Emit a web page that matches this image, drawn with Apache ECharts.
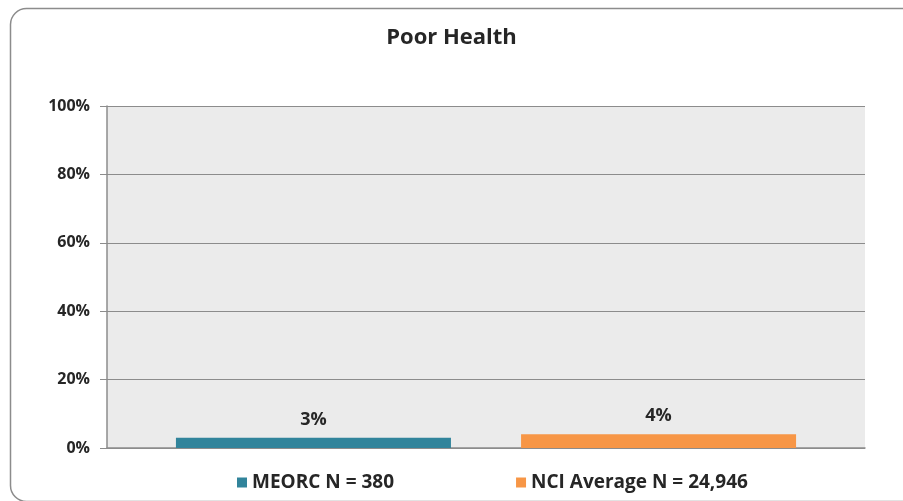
<!DOCTYPE html>
<html>
<head>
<meta charset="utf-8">
<script src="https://cdn.jsdelivr.net/npm/echarts@6/dist/echarts.min.js"></script>
<style>
  html, body { margin: 0; padding: 0; background: #ffffff; }
  #chart { width: 903px; height: 501px; }
</style>
</head>
<body>
<div id="chart"></div>
<script>
// Share of respondents reporting poor health
const categories = ['Poor Health'];
const seriesNames = ['MEORC N = 380', 'NCI Average N = 24,946'];
const meorcValues = [3];
const nciValues = [4];
const yTicks = [0, 20, 40, 60, 80, 100];

const FONT = 'Open Sans';
const TEXT = '#262626';

const chart = echarts.init(document.getElementById('chart'), null, { renderer: 'canvas' });

chart.setOption({
  backgroundColor: '#ffffff',
  animation: false,
  title: {
    text: categories[0],
    left: 'center',
    top: 22,
    textStyle: { fontFamily: FONT, fontSize: 22, fontWeight: 'bold', color: TEXT }
  },
  graphic: [{
    type: 'rect',
    left: 8, top: 6,
    shape: { width: 910, height: 493, r: 16 },
    style: { fill: 'none', stroke: '#8c8c8c', lineWidth: 1.5 },
    silent: true,
    z: -1
  }],
  legend: {
    data: seriesNames,
    left: 232,
    top: 468,
    itemWidth: 10,
    itemHeight: 10,
    itemGap: 122,
    icon: 'rect',
    textStyle: { fontFamily: FONT, fontSize: 19, fontWeight: 'bold', color: TEXT }
  },
  grid: {
    left: 107, right: 38, top: 106, bottom: 53,
    show: true,
    backgroundColor: '#ebebeb',
    borderWidth: 0
  },
  xAxis: {
    type: 'category',
    data: categories,
    axisLine: { show: true, lineStyle: { color: '#8c8c8c', width: 1.5 } },
    axisTick: { show: false },
    axisLabel: { show: false }
  },
  yAxis: {
    type: 'value',
    min: yTicks[0],
    max: yTicks[yTicks.length - 1],
    interval: yTicks[1] - yTicks[0],
    axisLine: { show: true, lineStyle: { color: '#8c8c8c', width: 1.5 } },
    axisTick: { show: true, length: 7, lineStyle: { color: '#8c8c8c' } },
    splitLine: { show: true, lineStyle: { color: '#8c8c8c', width: 1 } },
    axisLabel: {
      formatter: '{value}%',
      margin: 17,
      fontFamily: FONT, fontSize: 16, fontWeight: 'bold', color: TEXT
    }
  },
  series: [
    {
      name: seriesNames[0],
      type: 'bar',
      data: meorcValues,
      barWidth: 275,
      barGap: '25.5%',
      itemStyle: { color: '#31849b' },
      label: {
        show: true, position: 'top', distance: 9,
        formatter: '{c}%',
        fontFamily: FONT, fontSize: 18, fontWeight: 'bold', color: TEXT
      }
    },
    {
      name: seriesNames[1],
      type: 'bar',
      data: nciValues,
      barWidth: 275,
      itemStyle: { color: '#f79646' },
      label: {
        show: true, position: 'top', distance: 9,
        formatter: '{c}%',
        fontFamily: FONT, fontSize: 18, fontWeight: 'bold', color: TEXT
      }
    }
  ]
});
</script>
</body>
</html>
